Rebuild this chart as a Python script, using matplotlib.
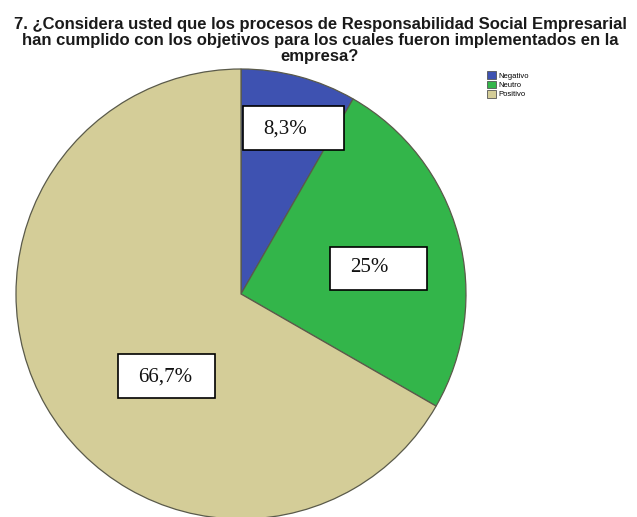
import matplotlib
matplotlib.use("Agg")
import matplotlib.pyplot as plt
from matplotlib.patches import Rectangle, Patch

# Data
categories = ["Negativo", "Neutro", "Positivo"]
values = [8.3, 25.0, 66.7]
value_labels = ["8,3%", "25%", "66,7%"]
colors = ["#3E52B1", "#33B54A", "#D4CD98"]
title = ("7. ¿Considera usted que los procesos de Responsabilidad Social Empresarial\n"
         "han cumplido con los objetivos para los cuales fueron implementados en la\n"
         "empresa?")

W, H = 637, 517
fig = plt.figure(figsize=(W / 100, H / 100), dpi=100)
ax = fig.add_axes([0, 0, 1, 1])
ax.axis("off")

# Pie drawn in pixel-like coordinates (y axis inverted, so angles run mirrored)
cx, cy, r = 241, 294, 225
ax.pie(values, colors=colors, startangle=-90, counterclock=True,
       center=(cx, cy), radius=r,
       wedgeprops=dict(linewidth=0.9, edgecolor="#5a5a4a"))
ax.set_xlim(0, W)
ax.set_ylim(H, 0)
ax.set_aspect("equal")

# Value boxes: (center x, center y, width, height) and text anchor
boxes = [(293, 128, 101, 44), (378, 268, 97, 43), (166, 376, 97, 44)]
text_pos = [(285, 129), (369, 268), (165, 377)]
for (bx, by, bw, bh), (tx, ty), lab in zip(boxes, text_pos, value_labels):
    ax.add_patch(Rectangle((bx - bw / 2, by - bh / 2), bw, bh, facecolor="white",
                           edgecolor="black", linewidth=1.2, zorder=5))
    ax.text(tx, ty, lab, ha="center", va="center", fontsize=15,
            family="Liberation Serif", color="#111111", zorder=6)

# Title
fig.text(320 / W, 1 - 17 / H, title, ha="center", va="top", fontsize=12,
         fontweight="bold", family="Liberation Sans", linespacing=1.1,
         color="#1a1a1a")

# Legend
handles = [Patch(facecolor=c, edgecolor="#555555", linewidth=0.6) for c in colors]
fig.legend(handles, categories, loc="upper left", bbox_to_anchor=(482 / W, 1 - 66 / H),
           frameon=False, handlelength=1.1, handleheight=1.1,
           handletextpad=0.3, labelspacing=0.15, borderpad=0.2,
           prop=dict(family="Liberation Sans", size=5.5))

fig.savefig("out.png", dpi=100)
